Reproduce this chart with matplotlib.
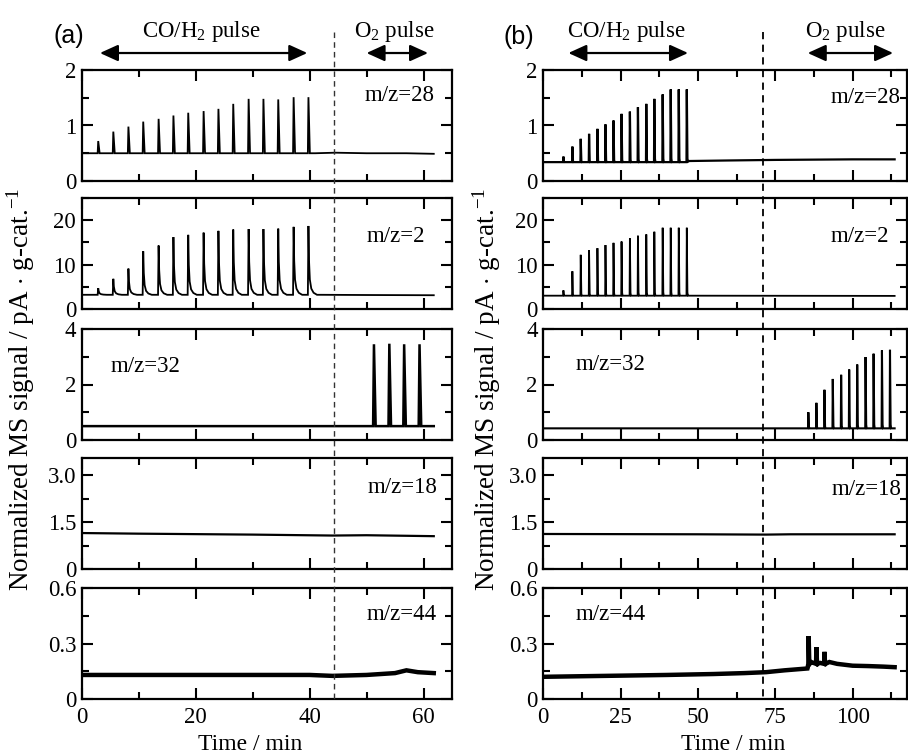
import numpy as np
import matplotlib
matplotlib.use('Agg')
import matplotlib.pyplot as plt
from matplotlib.lines import Line2D
from matplotlib.ticker import MultipleLocator, FixedLocator, FixedFormatter, NullFormatter
from matplotlib import transforms

plt.rcParams['font.family'] = ['Liberation Serif', 'DejaVu Serif']
plt.rcParams['mathtext.fontset'] = 'custom'
plt.rcParams['mathtext.rm'] = 'Liberation Serif'
plt.rcParams['mathtext.it'] = 'Liberation Serif:italic'

# ---- data ----
# (a) run: CO/H2 pulses then O2 pulses, time in min
a_pulse_t = [2.9, 5.55, 8.2, 10.8, 13.5, 16.1, 18.7, 21.4, 24.0, 26.6, 29.3, 31.9, 34.5, 37.2, 39.8]
a28_h = [0.72, 0.89, 0.98, 1.07, 1.12, 1.18, 1.23, 1.26, 1.30, 1.39, 1.48, 1.48, 1.47, 1.51, 1.51]
a28_knot_t = [0, 41.0, 44.5, 50, 57, 61.8]
a28_knot_y = [0.50, 0.50, 0.51, 0.50, 0.50, 0.49]
a2_h = [4.7, 6.8, 9.1, 13.0, 14.3, 16.2, 16.7, 17.2, 17.6, 17.9, 18.0, 18.0, 18.1, 18.5, 18.7]
a2_knot_t = [0, 42.0, 50, 61.8]
a2_knot_y = [3.2, 3.2, 3.15, 3.1]
a32_pulse_t = [51.3, 54.0, 56.6, 59.3]
a32_h = [3.45, 3.47, 3.45, 3.45]
a32_knot_t = [0, 30, 50.5, 61.8]
a32_knot_y = [0.50, 0.50, 0.50, 0.50]
a18_knot_t = [0, 10, 30, 44, 50, 61.8]
a18_knot_y = [1.15, 1.13, 1.10, 1.07, 1.08, 1.05]
a44_knot_t = [0, 20, 40, 44, 50, 55, 57, 59, 61.8]
a44_knot_y = [0.13, 0.13, 0.13, 0.125, 0.13, 0.14, 0.155, 0.145, 0.14]

# (b) run
b_pulse_t = [6.5, 9.4, 12.1, 14.8, 17.5, 20.1, 22.7, 25.3, 28.0, 30.6, 33.3, 35.9, 38.6, 41.2, 43.8, 46.4]
b28_h = [0.44, 0.62, 0.76, 0.85, 0.94, 1.02, 1.09, 1.21, 1.25, 1.33, 1.39, 1.48, 1.56, 1.65, 1.65, 1.65]
b28_knot_t = [0, 47.0, 60, 75, 100, 113.6]
b28_knot_y = [0.34, 0.36, 0.37, 0.38, 0.39, 0.39]
b2_h = [4.2, 8.5, 12.2, 13.2, 13.7, 14.4, 14.9, 15.2, 15.9, 16.5, 16.8, 17.4, 18.3, 18.3, 18.3, 18.3]
b2_knot_t = [0, 47.0, 113.6]
b2_knot_y = [3.0, 3.0, 2.95]
b_o2_t = [85.7, 88.3, 90.9, 93.6, 96.3, 98.9, 101.5, 104.2, 106.8, 109.5, 112.1]
b32_h = [1.00, 1.34, 1.81, 2.20, 2.35, 2.54, 2.72, 2.99, 3.11, 3.23, 3.25]
b32_knot_t = [0, 85.0, 113.6]
b32_knot_y = [0.42, 0.42, 0.42]
b18_knot_t = [0, 50, 72, 80, 113.6]
b18_knot_y = [1.12, 1.11, 1.10, 1.11, 1.11]
b44_spike_t = [85.8, 88.3, 90.9]
b44_spike_h = [0.34, 0.28, 0.255]
b44_knot_t = [0, 20, 40, 55, 65, 72, 78, 85.4, 86.6, 89.5, 92.5, 95, 100, 105, 110, 113.6]
b44_knot_y = [0.12, 0.125, 0.13, 0.135, 0.14, 0.145, 0.155, 0.165, 0.20, 0.195, 0.20, 0.19, 0.18, 0.178, 0.175, 0.172]

labels_a = ['m/z=28', 'm/z=2', 'm/z=32', 'm/z=18', 'm/z=44']
labels_b = ['m/z=28', 'm/z=2', 'm/z=32', 'm/z=18', 'm/z=44']
y_lims = [2, 25, 4, 3.55, 0.6]
y_major = [[0, 1, 2], [0, 10, 20], [0, 2, 4], [0, 1.5, 3.0], [0, 0.3, 0.6]]
y_major_lbl = [['0', '1', '2'], ['0', '10', '20'], ['0', '2', '4'], ['0', '1.5', '3.0'], ['0', '0.3', '0.6']]
y_minor = [0.5, 5, 1, 0.75, 0.15]

# peak shapes (offset in min, fraction of height)
SPIKE = [(-0.1, 0), (0, 1), (0.25, 0)]
TAIL = [(-0.1, 0), (0, 1), (0.1, 0.5), (0.25, 0.22), (0.5, 0.09), (0.9, 0.03), (1.5, 0)]
WIDE = [(-0.15, 0), (0, 1), (0.3, 0)]
THIN = [(-0.1, 0), (0, 1), (0.2, 0.05), (0.35, 0)]


def build_trace(knot_t, knot_y, peak_t=(), peak_h=(), base=0.0, shape=SPIKE):
    pts = list(zip(knot_t, knot_y))
    for t, h in zip(peak_t, peak_h):
        for dt, f in shape:
            pts.append((t + dt, base + f * (h - base)))
    pts.sort()
    x, y = zip(*pts)
    return np.array(x), np.array(y)


traces_a = [
    (build_trace(a28_knot_t, a28_knot_y, a_pulse_t, a28_h, 0.50, SPIKE), 1.3),
    (build_trace(a2_knot_t, a2_knot_y, a_pulse_t, a2_h, 3.2, TAIL), 1.3),
    (build_trace(a32_knot_t, a32_knot_y, a32_pulse_t, a32_h, 0.50, WIDE), 1.8),
    (build_trace(a18_knot_t, a18_knot_y), 1.6),
    (build_trace(a44_knot_t, a44_knot_y), 3.2),
]
traces_b = [
    (build_trace(b28_knot_t, b28_knot_y, b_pulse_t, b28_h, 0.34, THIN), 1.6),
    (build_trace(b2_knot_t, b2_knot_y, b_pulse_t, b2_h, 3.0, THIN), 1.3),
    (build_trace(b32_knot_t, b32_knot_y, b_o2_t, b32_h, 0.42, THIN), 1.5),
    (build_trace(b18_knot_t, b18_knot_y), 1.6),
    (build_trace(b44_knot_t, b44_knot_y, b44_spike_t, b44_spike_h, 0.19, THIN), 3.2),
]

W, H = 908, 755
fig = plt.figure(figsize=(W / 100, H / 100), dpi=100)

row_top = [70, 198, 329, 458, 588]
row_h = 111
cols = [(81.7, 370.3), (543.3, 363.7)]
FS = 16.5


def make_column(col, traces, labels, xmax, xmaj, xmin, lbl_pos, dash_x, dash_style):
    left, width = cols[col]
    axes = []
    for i in range(5):
        ax = fig.add_axes([left / W, 1 - (row_top[i] + row_h) / H, width / W, row_h / H])
        (x, y), lw = traces[i]
        ax.plot(x, y, color='k', lw=lw, solid_joinstyle='miter')
        ax.set_xlim(0, xmax)
        ax.set_ylim(0, y_lims[i])
        ax.xaxis.set_major_locator(MultipleLocator(xmaj))
        ax.xaxis.set_minor_locator(MultipleLocator(xmin))
        ax.yaxis.set_major_locator(FixedLocator(y_major[i]))
        ax.yaxis.set_major_formatter(FixedFormatter(y_major_lbl[i]))
        ax.yaxis.set_minor_locator(MultipleLocator(y_minor[i]))
        ax.tick_params(which='both', direction='in', top=True, right=True, width=1.5,
                       labelsize=FS)
        ax.tick_params(which='major', length=8)
        ax.tick_params(which='minor', length=5)
        ax.tick_params(axis='y', pad=4)
        ax.tick_params(axis='x', pad=6)
        if i < 4:
            ax.xaxis.set_major_formatter(NullFormatter())
        for s in ax.spines.values():
            s.set_linewidth(1.6)
        tx, ty, ha = lbl_pos[i]
        ax.text(tx, ty, labels[i], transform=ax.transAxes, ha=ha, va='center', fontsize=FS)
        axes.append(ax)
    # dashed separator between the two pulse regimes
    tr = transforms.blended_transform_factory(axes[0].transData, fig.transFigure)
    ls, lw, c = dash_style
    fig.add_artist(Line2D([dash_x, dash_x], [1 - 32 / H, 1 - 699 / H], transform=tr,
                          color=c, lw=lw, dashes=ls))
    return axes


axes_a = make_column(0, traces_a, labels_a, 65, 20, 10,
                     [(0.954, 0.77, 'right'), (0.928, 0.65, 'right'), (0.079, 0.66, 'left'),
                      (0.96, 0.73, 'right'), (0.96, 0.76, 'right')],
                     44.2, ((4, 3), 1.0, '#333333'))
axes_b = make_column(1, traces_b, labels_b, 117.6, 25, 12.5,
                     [(0.983, 0.75, 'right'), (0.95, 0.65, 'right'), (0.09, 0.68, 'left'),
                      (0.986, 0.72, 'right'), (0.09, 0.76, 'left')],
                     70.9, ((4, 3), 1.3, 'k'))


def pulse_marks(ax, spans, texts):
    tr = transforms.blended_transform_factory(ax.transData, ax.transAxes)
    for (x0, x1), (tx, s) in zip(spans, texts):
        ax.annotate('', xy=(x1, 1.153), xytext=(x0, 1.153), xycoords=tr, textcoords=tr,
                    arrowprops=dict(arrowstyle='<|-|>,head_length=0.55,head_width=0.25',
                                    mutation_scale=20, lw=1.6, color='k',
                                    shrinkA=0, shrinkB=0),
                    annotation_clip=False)
        ax.text(tx, 1.30, s, transform=tr, ha='center', va='baseline', fontsize=FS,
                clip_on=False)


pulse_marks(axes_a[0], [(3.2, 39.6), (50.0, 60.8)],
            [(21.0, 'CO/H$_2$ pulse'), (54.9, 'O$_2$ pulse')])
pulse_marks(axes_b[0], [(8.1, 46.8), (85.5, 113.1)],
            [(27.0, 'CO/H$_2$ pulse'), (97.6, 'O$_2$ pulse')])

fig.text(69 / W, 1 - 36 / H, '(a)', family='Liberation Sans', fontsize=18, ha='center', va='center')
fig.text(519 / W, 1 - 37 / H, '(b)', family='Liberation Sans', fontsize=18, ha='center', va='center')

ylab = 'Normalized MS signal / pA $\\cdot$ g-cat.$^{-1}$'
fig.text(21 / W, 1 - 389 / H, ylab, rotation=90, ha='center', va='center', fontsize=19.5)
fig.text(487 / W, 1 - 389 / H, ylab, rotation=90, ha='center', va='center', fontsize=19.5)

fig.text(250 / W, 1 - 745 / H, 'Time / min', ha='center', va='center', fontsize=FS + 0.5)
fig.text(733 / W, 1 - 745 / H, 'Time / min', ha='center', va='center', fontsize=FS + 0.5)

fig.savefig('out.png', dpi=100)
